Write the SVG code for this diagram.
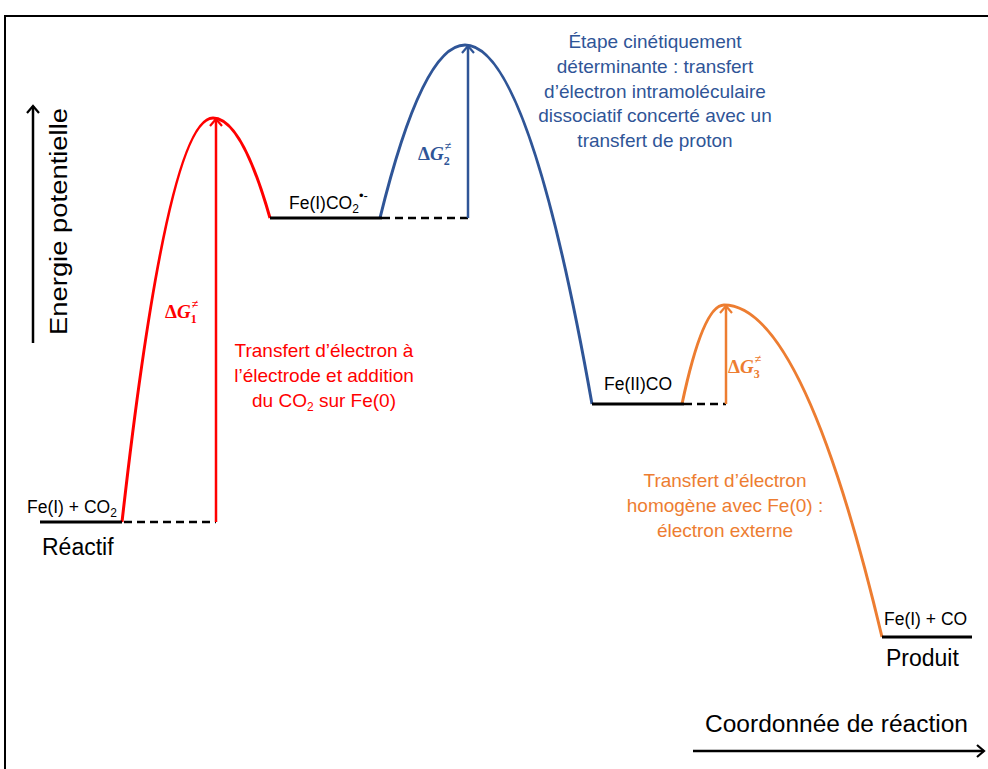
<svg xmlns="http://www.w3.org/2000/svg" width="988" height="769" viewBox="0 0 988 769">
<style>
text{font-family:"Liberation Sans",Arial,sans-serif;}
.lab{font-size:17.5px;fill:#000;}
.big{font-size:23px;fill:#000;}
.lvl{stroke:#000;stroke-width:3;fill:none;}
.dash{stroke:#000;stroke-width:2.5;stroke-dasharray:8,5;fill:none;}
.dg{font-family:"Liberation Serif","Times New Roman",serif;font-weight:bold;font-size:19px;}
.dgi{font-style:italic;}
.sub{font-size:12px;}
.red{fill:#ff0000;}
.blue{fill:#2f5597;}
.orange{fill:#ed7d31;}
.note{font-size:19px;text-anchor:middle;}
</style>
<defs>
<marker id="ak" viewBox="0 0 14 14" refX="12" refY="7" markerWidth="14" markerHeight="14" markerUnits="userSpaceOnUse" orient="auto">
<path d="M5,1 L12,7 L5,13" fill="none" stroke="#000" stroke-width="2.2"/>
</marker>
<marker id="ar" viewBox="0 0 14 14" refX="12" refY="7" markerWidth="14" markerHeight="14" markerUnits="userSpaceOnUse" orient="auto">
<path d="M5,1 L12,7 L5,13" fill="none" stroke="#ff0000" stroke-width="2.2"/>
</marker>
<marker id="ab" viewBox="0 0 14 14" refX="12" refY="7" markerWidth="14" markerHeight="14" markerUnits="userSpaceOnUse" orient="auto">
<path d="M5,1 L12,7 L5,13" fill="none" stroke="#2f5597" stroke-width="2.2"/>
</marker>
<marker id="ao" viewBox="0 0 14 14" refX="12" refY="7" markerWidth="14" markerHeight="14" markerUnits="userSpaceOnUse" orient="auto">
<path d="M5,1 L12,7 L5,13" fill="none" stroke="#ed7d31" stroke-width="2.2"/>
</marker>
</defs>
<rect width="988" height="769" fill="#fff"/>
<path d="M5,769 V16 H988" fill="none" stroke="#000" stroke-width="2"/>

<g id="axes">
<line x1="33" y1="343" x2="33" y2="106" stroke="#000" stroke-width="2.5" marker-end="url(#ak)"/>
<text class="big" transform="translate(67,335) rotate(-90)" textLength="227" lengthAdjust="spacingAndGlyphs">Energie potentielle</text>
<line x1="693" y1="751" x2="984" y2="751" stroke="#000" stroke-width="2.5" marker-end="url(#ak)"/>
<text class="big" x="705" y="732" textLength="263" lengthAdjust="spacingAndGlyphs">Coordonnée de réaction</text>
</g>

<g id="connectors">
<path d="M122,522 Q167.5,118 213,118 Q241.5,118 270,218" fill="none" stroke="#ff0000" stroke-width="3"/>
<path d="M380,218 Q422.5,45 465,45 Q528.5,45 592,404" fill="none" stroke="#2f5597" stroke-width="3"/>
<path d="M682,404 Q703,305 724,305 Q803,305 882,637" fill="none" stroke="#ed7d31" stroke-width="3"/>
<line class="dash" x1="124" y1="522" x2="216" y2="522"/>
<line class="dash" x1="382" y1="218" x2="468" y2="218"/>
<line class="dash" x1="684" y1="404" x2="726" y2="404"/>
<line x1="216" y1="522" x2="216" y2="119" stroke="#ff0000" stroke-width="2.5" marker-end="url(#ar)"/>
<line x1="468" y1="218" x2="468" y2="46" stroke="#2f5597" stroke-width="2.5" marker-end="url(#ab)"/>
<line x1="726" y1="404" x2="726" y2="306" stroke="#ed7d31" stroke-width="2.5" marker-end="url(#ao)"/>
</g>

<g id="reactif">
<line class="lvl" x1="40" y1="522" x2="122" y2="522"/>
<text class="lab" x="27" y="513">Fe(I) + CO<tspan class="sub" dy="4">2</tspan></text>
<text class="big" x="42" y="555">Réactif</text>
</g>

<g id="inter1">
<line class="lvl" x1="270" y1="218" x2="382" y2="218"/>
<text class="lab" x="289" y="209">Fe(I)CO<tspan class="sub" dy="4">2</tspan><tspan font-size="13" dy="-13">•-</tspan></text>
</g>

<g id="inter2">
<line class="lvl" x1="592" y1="404" x2="684" y2="404"/>
<text class="lab" x="604" y="390">Fe(II)CO</text>
</g>

<g id="produit">
<line class="lvl" x1="882" y1="637" x2="972" y2="637"/>
<text class="lab" x="884" y="625">Fe(I) + CO</text>
<text class="big" x="886" y="666">Produit</text>
</g>

<g id="ts1">
<text class="dg red" x="165" y="318">Δ<tspan class="dgi">G</tspan><tspan class="sub" dy="5">1</tspan><tspan class="sub" dx="-5" dy="-15">≠</tspan></text>
<text class="note red"><tspan x="324" y="357">Transfert d’électron à</tspan><tspan x="324" y="382">l’électrode et addition</tspan><tspan x="324" y="407">du CO<tspan class="sub" font-size="13" dy="4">2</tspan><tspan dy="-4"> sur Fe(0)</tspan></tspan></text>
</g>

<g id="ts2">
<text class="dg blue" x="418" y="160">Δ<tspan class="dgi">G</tspan><tspan class="sub" dy="5">2</tspan><tspan class="sub" dx="-5" dy="-15">≠</tspan></text>
<text class="note blue"><tspan x="655" y="48">Étape cinétiquement</tspan><tspan x="655" y="73">déterminante : transfert</tspan><tspan x="655" y="98">d’électron intramoléculaire</tspan><tspan x="655" y="122">dissociatif concerté avec un</tspan><tspan x="655" y="147">transfert de proton</tspan></text>
</g>

<g id="ts3">
<text class="dg orange" x="728" y="373">Δ<tspan class="dgi">G</tspan><tspan class="sub" dy="5">3</tspan><tspan class="sub" dx="-5" dy="-15">≠</tspan></text>
<text class="note orange"><tspan x="725" y="487">Transfert d’électron</tspan><tspan x="725" y="512">homogène avec Fe(0) :</tspan><tspan x="725" y="537">électron externe</tspan></text>
</g>
</svg>
